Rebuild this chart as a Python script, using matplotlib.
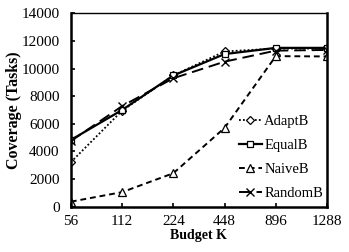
import matplotlib.pyplot as plt

plt.rcParams['font.family'] = ['Liberation Serif', 'DejaVu Serif']

# Valeurs
budgets = ["56", "112", "224", "448", "896", "1288"]
adapt_b = [3220, 6950, 9500, 11240, 11450, 11450]
equal_b = [4830, 7000, 9500, 11050, 11500, 11500]
naive_b = [360, 1050, 2420, 5700, 10900, 10880]
random_b = [4750, 7280, 9300, 10500, 11300, 11350]

x = list(range(len(budgets)))

fig, ax = plt.subplots(figsize=(3.49, 2.52), dpi=100)
fig.subplots_adjust(left=0.203, right=0.937, top=0.947, bottom=0.18)

ax.plot(x, adapt_b, color='black', linestyle=(0, (1, 1.2)), linewidth=1.3,
        marker='D', markersize=4.5, markerfacecolor='white', markeredgewidth=0.9, label='AdaptB')
ax.plot(x, equal_b, color='black', linestyle='-', linewidth=1.6,
        marker='s', markersize=5, markerfacecolor='white', markeredgewidth=0.9, label='EqualB')
ax.plot(x, naive_b, color='black', linestyle=(0, (3, 2)), linewidth=1.4,
        marker='^', markersize=6, markerfacecolor='white', markeredgewidth=0.9, label='NaiveB')
ax.plot(x, random_b, color='black', linestyle=(0, (6, 3)), linewidth=1.4,
        marker='x', markersize=6, markeredgewidth=1.0, label='RandomB')

ax.set_xlim(0, len(budgets) - 1)
ax.set_ylim(0, 14000)
ax.set_xticks(x)
ax.set_xticklabels(budgets)
ax.set_yticks(range(0, 14001, 2000))
ax.tick_params(direction='in', length=3, width=1.2, labelsize=11)
ax.tick_params(axis='y', pad=8)
ax.tick_params(axis='x', pad=6)

for side in ['left', 'bottom', 'right']:
    ax.spines[side].set_linewidth(1.8)
ax.spines['top'].set_linewidth(1.0)

ax.set_xlabel('Budget K', fontsize=10, fontweight='bold', labelpad=1)
ax.set_ylabel('Coverage (Tasks)', fontsize=11.5, fontweight='bold', labelpad=0)

ax.legend(loc='lower right', frameon=False, fontsize=10.5, handlelength=1.6,
          handletextpad=0.15, labelspacing=0.75, borderaxespad=0.05,
          bbox_to_anchor=(1.01, 0.0))

plt.savefig('out.png', dpi=100)
